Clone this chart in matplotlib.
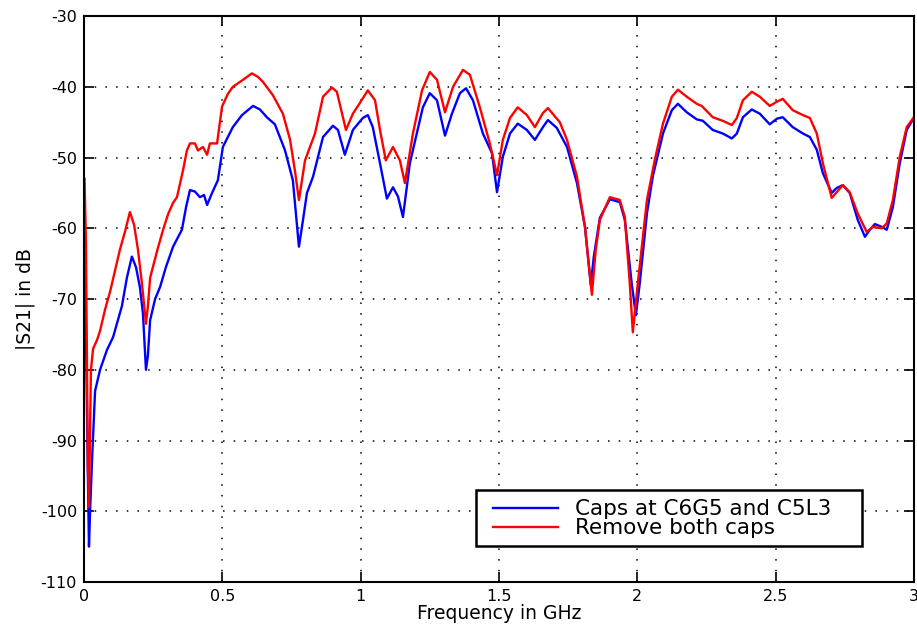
import matplotlib.pyplot as plt
from matplotlib.patches import Rectangle

plt.rc('font', family=['DejaVu Sans'])
plt.rc('axes', unicode_minus=False)

# |S21| vs frequency, with both caps fitted
freq_caps = [0.002, 0.007, 0.014, 0.018, 0.022, 0.029, 0.040, 0.058, 0.083, 0.105,
             0.137, 0.155, 0.173, 0.188, 0.202, 0.213, 0.224, 0.231, 0.239, 0.257,
             0.275, 0.296, 0.322, 0.354, 0.369, 0.383, 0.401, 0.419, 0.434, 0.445,
             0.463, 0.484, 0.502, 0.538, 0.571, 0.611, 0.636, 0.661, 0.690, 0.726,
             0.755, 0.777, 0.791, 0.806, 0.828, 0.864, 0.900, 0.918, 0.943, 0.972,
             1.008, 1.026, 1.044, 1.070, 1.095, 1.117, 1.135, 1.153, 1.178, 1.203,
             1.225, 1.250, 1.276, 1.305, 1.330, 1.359, 1.381, 1.406, 1.442, 1.475,
             1.493, 1.514, 1.540, 1.568, 1.601, 1.630, 1.659, 1.677, 1.709, 1.746,
             1.782, 1.811, 1.832, 1.843, 1.865, 1.901, 1.937, 1.955, 1.980, 1.995,
             2.009, 2.035, 2.056, 2.093, 2.125, 2.147, 2.179, 2.215, 2.237, 2.273,
             2.309, 2.342, 2.360, 2.382, 2.414, 2.443, 2.479, 2.505, 2.526, 2.562,
             2.599, 2.624, 2.649, 2.671, 2.703, 2.721, 2.743, 2.768, 2.797, 2.823,
             2.841, 2.859, 2.884, 2.902, 2.924, 2.949, 2.974, 3.000]
s21_caps = [-62, -75, -95, -105, -100, -92.8, -83, -80, -77.2, -75.4,
            -71, -67, -64, -65.5, -68.3, -72, -80, -78, -73, -70,
            -68.3, -65.5, -62.6, -60.2, -57, -54.6, -54.8, -55.6, -55.3, -56.7,
            -55, -53.2, -48.5, -45.7, -44, -42.7, -43.2, -44.3, -45.3, -48.9,
            -53.2, -62.6, -59, -55, -52.7, -47.1, -45.5, -46.1, -49.6, -46.1,
            -44.4, -44, -45.7, -50.8, -55.8, -54.2, -55.5, -58.4, -50.8, -46.6,
            -42.9, -40.9, -41.9, -46.9, -43.8, -40.9, -40.2, -41.9, -46.6, -49.4,
            -54.9, -49.9, -46.6, -45.2, -46.1, -47.5, -45.7, -44.7, -45.8, -48.5,
            -53.6, -59.8, -68, -64, -58.5, -55.9, -56.3, -58.8, -67.8, -72.3,
            -67.8, -57.9, -52.7, -46.6, -43.3, -42.4, -43.6, -44.6, -44.8, -46.1,
            -46.6, -47.3, -46.6, -44.3, -43.2, -43.8, -45.3, -44.5, -44.3, -45.7,
            -46.6, -47.1, -48.9, -52.2, -55, -54.3, -53.9, -55, -58.8, -61.2,
            -60.2, -59.4, -59.8, -60.2, -57, -50.8, -46.1, -44.4]

# |S21| vs frequency, both caps removed
freq_nocaps = [0.002, 0.007, 0.011, 0.014, 0.018, 0.022, 0.025, 0.033, 0.047, 0.058,
               0.076, 0.094, 0.112, 0.130, 0.148, 0.166, 0.181, 0.195, 0.210, 0.224,
               0.231, 0.239, 0.249, 0.267, 0.286, 0.304, 0.322, 0.336, 0.358, 0.372,
               0.383, 0.401, 0.412, 0.430, 0.445, 0.455, 0.481, 0.499, 0.520, 0.538,
               0.575, 0.607, 0.629, 0.647, 0.683, 0.719, 0.745, 0.763, 0.777, 0.799,
               0.835, 0.864, 0.896, 0.914, 0.947, 0.972, 0.997, 1.026, 1.052, 1.070,
               1.091, 1.117, 1.142, 1.160, 1.189, 1.222, 1.250, 1.276, 1.305, 1.334,
               1.370, 1.395, 1.431, 1.467, 1.493, 1.514, 1.540, 1.568, 1.601, 1.630,
               1.659, 1.677, 1.720, 1.746, 1.782, 1.811, 1.836, 1.850, 1.865, 1.901,
               1.937, 1.955, 1.973, 1.984, 2.002, 2.035, 2.063, 2.093, 2.125, 2.147,
               2.179, 2.215, 2.233, 2.273, 2.309, 2.342, 2.360, 2.382, 2.414, 2.443,
               2.479, 2.505, 2.526, 2.562, 2.599, 2.624, 2.649, 2.671, 2.703, 2.721,
               2.743, 2.768, 2.797, 2.829, 2.852, 2.884, 2.902, 2.924, 2.949, 2.974,
               3.000]
s21_nocaps = [-53, -62, -80, -93.7, -99.4, -88, -80, -77, -75.8, -74.5,
              -71.5, -69, -66, -63, -60.5, -57.7, -59.5, -63, -68, -73.5,
              -71, -67, -65.5, -62.8, -60.2, -58, -56.4, -55.6, -51.8, -49,
              -48, -48, -49, -48.5, -49.6, -48, -48, -42.8, -41, -40,
              -39, -38.1, -38.6, -39.3, -41.2, -43.8, -47.5, -52, -56, -50.4,
              -46.6, -41.4, -40.1, -40.7, -46.1, -43.8, -42.3, -40.5, -41.9, -46.1,
              -50.4, -48.5, -50.4, -53.6, -46.6, -40.5, -37.9, -39, -43.6, -40,
              -37.6, -38.3, -42.9, -48, -52.5, -47.5, -44.4, -42.9, -44, -45.7,
              -43.7, -43, -45, -47.5, -52.7, -59.8, -69.4, -63, -58.8, -55.6,
              -56, -58.4, -67.8, -74.7, -67.8, -56, -50.4, -45.2, -41.4, -40.4,
              -41.4, -42.4, -42.7, -44.3, -44.8, -45.4, -44.4, -41.9, -40.7, -41.4,
              -42.7, -42.1, -41.7, -43.3, -44, -44.4, -46.6, -50.8, -55.7, -54.9,
              -53.9, -54.9, -57.9, -60.5, -59.8, -60, -59.3, -56, -49.9, -45.7,
              -44.3]

labels = ['Caps at C6G5 and C5L3', 'Remove both caps']
x_ticks = [0, 0.5, 1, 1.5, 2, 2.5, 3]
x_tick_labels = ['0', '0.5', '1', '1.5', '2', '2.5', '3']
y_ticks = [-110, -100, -90, -80, -70, -60, -50, -40, -30]

fig = plt.figure(figsize=(9.17, 6.26), dpi=100)
ax = fig.add_axes([0.0916, 0.0703, 0.905, 0.904])

ax.plot(freq_caps, s21_caps, color='#0000ff', lw=1.7, label=labels[0])
ax.plot(freq_nocaps, s21_nocaps, color='#ff0000', lw=1.7, label=labels[1])

ax.set_xlim(0, 3)
ax.set_ylim(-110, -30)
ax.set_xticks(x_ticks)
ax.set_xticklabels(x_tick_labels)
ax.set_yticks(y_ticks)
ax.tick_params(direction='in', top=True, right=True, length=7, width=1.2,
               labelsize=11.5, pad=5)
ax.grid(True, color='black', linestyle=(0, (1, 6)), linewidth=1.1)
for sp in ax.spines.values():
    sp.set_linewidth(1.5)

ax.set_xlabel('Frequency in GHz', fontsize=13.5, labelpad=0)
ax.set_ylabel('|S21| in dB', fontsize=13.5, labelpad=4)

# legend box drawn separately so the side padding can be wider than the top/bottom
box = Rectangle((0.4723, 0.0636), 0.4647, 0.0989, transform=ax.transAxes,
                facecolor='white', edgecolor='black', linewidth=1.8, zorder=4)
ax.add_patch(box)
leg = ax.legend(loc='lower left', bbox_to_anchor=(0.4928, 0.077), fontsize=15.5,
                frameon=False, handlelength=3.0, borderpad=0,
                labelspacing=-0.05, handletextpad=0.8, borderaxespad=0)
leg.set_zorder(5)

plt.savefig('out.png', dpi=100)
